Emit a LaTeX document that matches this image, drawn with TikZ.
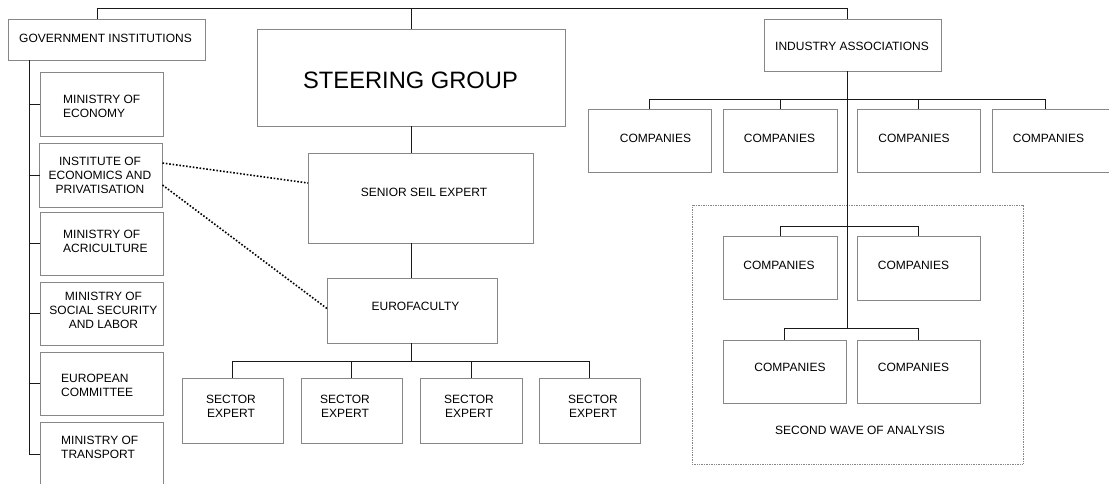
\documentclass[tikz,border=0pt]{standalone}
\usepackage{fontspec}
\setmainfont{Liberation Sans}
\usetikzlibrary{calc}
\definecolor{boxgray}{RGB}{135,135,135}
\definecolor{linedark}{RGB}{25,25,25}
\tikzset{
  box/.style={draw=boxgray, line width=0.9pt, inner sep=0pt, outer sep=0pt, rectangle},
  txt/.style={font=\fontsize{12}{14}\selectfont, inner sep=0pt, align=center, text=black},
  ltxt/.style={txt, align=left, anchor=west},
  conn/.style={draw=linedark, line width=1pt},
  dotlink/.style={draw=black, line width=1.6pt, dash pattern=on 1.6pt off 1.8pt},
  dotframe/.style={draw=boxgray, line width=0.8pt, dash pattern=on 0.8pt off 0.9pt, inner sep=0pt, outer sep=0pt},
}
\begin{document}
\begin{tikzpicture}[x=1pt,y=-1pt]
\useasboundingbox (0,0) rectangle (1109,483);

% ---- boxes ----
\node[box, minimum width=197pt, minimum height=41pt] (gov) at (106.5,39.5) {};
\node[box, minimum width=308pt, minimum height=97pt] (steer) at (411,77.5) {};
\node[box, minimum width=177pt, minimum height=52pt] (ia) at (852.5,45) {};

\node[box, minimum width=123pt, minimum height=64pt] (moe) at (101.5,104) {};
\node[box, minimum width=123pt, minimum height=64pt] (iep) at (101,175) {};
\node[box, minimum width=123pt, minimum height=63pt] (moa) at (101.5,243.5) {};
\node[box, minimum width=123pt, minimum height=63pt] (mss) at (101.5,313.5) {};
\node[box, minimum width=123pt, minimum height=63pt] (ec) at (101.5,383.5) {};
\node[box, minimum width=123pt, minimum height=64pt] (mot) at (101.5,454) {};

\node[box, minimum width=225pt, minimum height=90pt] (senior) at (420.5,198) {};
\node[box, minimum width=170pt, minimum height=65pt] (euro) at (412,310.5) {};

\node[box, minimum width=101pt, minimum height=65pt] (se1) at (232.5,410.5) {};
\node[box, minimum width=101pt, minimum height=65pt] (se2) at (351.5,410.5) {};
\node[box, minimum width=102pt, minimum height=65pt] (se3) at (471,410.5) {};
\node[box, minimum width=101pt, minimum height=65pt] (se4) at (589.5,410.5) {};

\node[box, minimum width=123pt, minimum height=63pt] (c1) at (649.5,140.5) {};
\node[box, minimum width=114pt, minimum height=63pt] (c2) at (780,140.5) {};
\node[box, minimum width=123pt, minimum height=63pt] (c3) at (918.5,140.5) {};
\node[box, minimum width=120pt, minimum height=63pt] (c4) at (1052,140.5) {};

\node[dotframe, minimum width=331pt, minimum height=259pt] (wave) at (857.5,334.5) {};
\node[box, minimum width=114pt, minimum height=63pt] (c5) at (780,267.5) {};
\node[box, minimum width=123pt, minimum height=64pt] (c6) at (918.5,268) {};
\node[box, minimum width=123pt, minimum height=63pt] (c7) at (784.5,371.5) {};
\node[box, minimum width=123pt, minimum height=63pt] (c8) at (918.5,371.5) {};

% ---- texts ----
\node[txt] (govt) at (105.5,38) {GOVERNMENT INSTITUTIONS};
\node[txt, font=\fontsize{23.7}{28}\selectfont] (steert) at (410.5,80) {STEERING GROUP};
\node[txt] (iat) at (852,46) {INDUSTRY ASSOCIATIONS};

\node[ltxt] (moet) at (63,106) {MINISTRY OF\\ECONOMY};
\node[txt] (iept) at (100,175) {INSTITUTE OF\\ECONOMICS AND\\PRIVATISATION};
\node[ltxt] (moat) at (63,241) {MINISTRY OF\\ACRICULTURE};
\node[txt] (msst) at (103.5,310.5) {MINISTRY OF\\SOCIAL SECURITY\\AND LABOR};
\node[ltxt] (ect) at (61,385.5) {EUROPEAN\\COMMITTEE};
\node[ltxt] (mott) at (61,447) {MINISTRY OF\\TRANSPORT};

\node[txt] (seniort) at (424,192) {SENIOR SEIL EXPERT};
\node[txt] (eurot) at (415.5,306) {EUROFACULTY};

\node[txt] (se1t) at (231,406.5) {SECTOR\\EXPERT};
\node[txt] (se2t) at (345,406.5) {SECTOR\\EXPERT};
\node[txt] (se3t) at (469,406.5) {SECTOR\\EXPERT};
\node[txt] (se4t) at (593,406.5) {SECTOR\\EXPERT};

\node[txt] (c1t) at (655.5,138) {COMPANIES};
\node[txt] (c2t) at (779.5,138) {COMPANIES};
\node[txt] (c3t) at (914,138) {COMPANIES};
\node[txt] (c4t) at (1048.5,138) {COMPANIES};
\node[txt] (c5t) at (779,265) {COMPANIES};
\node[txt] (c6t) at (913.5,265) {COMPANIES};
\node[txt] (c7t) at (790,367) {COMPANIES};
\node[txt] (c8t) at (913.5,367) {COMPANIES};
\node[txt] (wavet) at (860,430) {SECOND WAVE OF ANALYSIS};

% ---- connector coordinates ----
\coordinate (topL) at (97,8);
\coordinate (topR) at (847,8);
\coordinate (trunk) at (29,0);
\coordinate (sbus) at (0,361);
\coordinate (rbus) at (0,99);
\coordinate (ubus) at (0,226);
\coordinate (lbus) at (0,328);
\coordinate (c4tick) at (1045,0);

% top line
\draw[conn] (topL |- gov.north) -- (topL) -- (topR) -- (topR |- ia.north);
\draw[conn] (steer.north |- topL) -- (steer.north);

% left trunk
\draw[conn] (trunk |- gov.south) -- (trunk |- mot.west);
\foreach \n in {moe,iep,moa,mss,ec,mot}
  \draw[conn] (trunk |- \n.west) -- (\n.west);

% centre column
\draw[conn] (steer.south) -- (steer.south |- senior.north);
\draw[conn] (steer.south |- senior.south) -- (steer.south |- euro.north);
\draw[conn] (steer.south |- euro.south) -- (steer.south |- sbus);
\draw[conn] (se1.north |- sbus) -- (se4.north |- sbus);
\foreach \n in {se1,se2,se3,se4}
  \draw[conn] (\n.north |- sbus) -- (\n.north);

% right column
\draw[conn] (topR |- ia.south) -- (topR |- lbus);
\draw[conn] (c1.north |- rbus) -- (c4tick |- rbus);
\foreach \n in {c1,c2,c3}
  \draw[conn] (\n.north |- rbus) -- (\n.north);
\draw[conn] (c4tick |- rbus) -- (c4tick |- c4.north);
\draw[conn] (c5.north |- ubus) -- (c6.north |- ubus);
\draw[conn] (c5.north |- ubus) -- (c5.north);
\draw[conn] (c6.north |- ubus) -- (c6.north);
\draw[conn] (c7.north |- lbus) -- (c8.north |- lbus);
\draw[conn] (c7.north |- lbus) -- (c7.north);
\draw[conn] (c8.north |- lbus) -- (c8.north);

% dotted links
\draw[dotlink] ($(iep.north east)+(0,20)$) -- ($(senior.north west)+(0,30)$);
\draw[dotlink] ($(iep.north east)+(0,42)$) -- ($(euro.west)+(0,-2)$);
\end{tikzpicture}
\end{document}
